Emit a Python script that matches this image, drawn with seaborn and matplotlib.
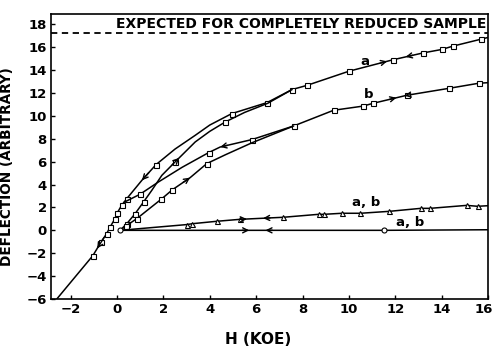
import numpy as np
import matplotlib
matplotlib.use("Agg")
import matplotlib.pyplot as plt
import matplotlib.transforms as mtransforms
import seaborn as sns
import pandas as pd

# ---------------- data ----------------
# curve a, descending branch (16 kOe -> negative field)
a_desc_H = [16.0, 15.7, 14.5, 14.0, 13.2, 11.9, 10.0, 8.2, 7.55, 6.47, 4.95,
            4.0, 3.37, 2.5, 1.68, 1.07, 0.42, 0.2, 0.0, -0.09, -0.3, -0.45,
            -0.7, -1.04, -1.8, -2.6]
a_desc_D = [16.85, 16.7, 16.1, 15.8, 15.5, 14.9, 13.9, 12.67, 12.3, 11.16, 10.2,
            9.2, 8.3, 7.1, 5.74, 4.37, 2.77, 2.19, 1.5, 1.02, 0.29, -0.29,
            -1.05, -2.2, -4.05, -6.0]
a_desc_marks = [1, 2, 3, 4, 5, 6, 7, 8, 9, 10, 14, 16, 17, 18, 19, 20, 21, 22, 23]
# curve a, ascending (virgin) branch
a_asc_H = [0.13, 0.42, 0.78, 1.14, 1.5, 1.93, 2.5, 3.37, 4.0, 4.67, 5.5, 6.5, 7.55]
a_asc_D = [0.0, 0.58, 1.46, 2.47, 3.5, 4.8, 5.97, 7.72, 8.65, 9.47, 10.3, 11.1, 12.3]
a_asc_marks = [1, 2, 3, 6, 9]
# curve b, descending branch
b_desc_H = [16.0, 15.6, 14.3, 12.5, 11.05, 10.6, 9.34, 7.62, 5.82, 4.45, 3.95,
            2.8, 1.78, 0.99, 0.3]
b_desc_D = [12.9, 12.85, 12.4, 11.8, 11.1, 10.85, 10.49, 9.12, 7.93, 7.28, 6.79,
            5.5, 4.22, 3.15, 2.45]
b_desc_marks = [1, 2, 3, 4, 5, 6, 7, 8, 10, 13]
# curve b, ascending (virgin) branch
b_asc_H = [0.13, 0.4, 0.85, 1.9, 2.39, 3.15, 3.87, 4.67, 5.82, 7.62]
b_asc_D = [0.0, 0.4, 1.02, 2.71, 3.55, 4.6, 5.83, 6.6, 7.65, 9.12]
b_asc_marks = [1, 2, 3, 4, 6]
# curve "a, b" with triangles
ab_tri_H = [0.13, 3.0, 3.25, 4.3, 5.3, 7.17, 8.7, 8.94, 9.7, 10.5, 11.75, 13.1, 13.5, 15.08, 15.55, 16.0]
ab_tri_D = [0.0, 0.5, 0.58, 0.79, 0.96, 1.14, 1.4, 1.4, 1.49, 1.49, 1.66, 1.92, 1.92, 2.18, 2.1, 2.15]
ab_tri_marks = list(range(1, 15))
# curve "a, b" flat, with circles
ab_flat_H = [0.13, 11.5, 16.0]
ab_flat_D = [0.0, 0.0, 0.05]
ab_flat_marks = [0, 1]

x_ticks = [-2, 0, 2, 4, 6, 8, 10, 12, 14, 16]
y_ticks = [-6, -4, -2, 0, 2, 4, 6, 8, 10, 12, 14, 16, 18]
expected_level = 17.2

# arrows: (series, H position, direction +1 right / -1 left)
arrows = [("a_desc", 12.45, -1), ("a_desc", 1.07, -1), ("a_desc", -0.86, -1),
          ("a_asc", 2.68, 1), ("a_desc", 11.65, 1),
          ("b_desc", 4.45, -1), ("b_desc", 12.4, -1),
          ("b_asc", 3.15, 1), ("b_desc", 12.05, 1),
          ("ab_tri", 5.6, 1), ("ab_tri", 6.3, -1),
          ("ab_flat", 5.7, 1), ("ab_flat", 6.4, -1)]

# ---------------- style ----------------
sns.set_style("ticks")
plt.rcParams["font.family"] = ["DejaVu Sans"]
plt.rcParams["font.weight"] = "bold"
for k in ["text.color", "axes.labelcolor", "xtick.color", "ytick.color", "axes.edgecolor"]:
    plt.rcParams[k] = "black"

fig = plt.figure(figsize=(4.93, 3.47), dpi=100)
ax = fig.add_axes([51/493, 1-299/347, (488-51)/493, (299-14)/347])

series = {
    "a_desc": (a_desc_H, a_desc_D, "s", a_desc_marks),
    "a_asc": (a_asc_H, a_asc_D, "s", a_asc_marks),
    "b_desc": (b_desc_H, b_desc_D, "s", b_desc_marks),
    "b_asc": (b_asc_H, b_asc_D, "s", b_asc_marks),
    "ab_tri": (ab_tri_H, ab_tri_D, "^", ab_tri_marks),
    "ab_flat": (ab_flat_H, ab_flat_D, "o", ab_flat_marks),
}

for name, (hs, ds, mk, me) in series.items():
    df = pd.DataFrame({"H": hs, "D": ds})
    sns.lineplot(data=df, x="H", y="D", ax=ax, sort=False, estimator=None,
                 color="black", lw=1.1, marker=mk, markevery=me,
                 markersize=3.6, markerfacecolor="white",
                 markeredgecolor="black", markeredgewidth=0.8)

def interp(name, h):
    hs, ds = np.array(series[name][0]), np.array(series[name][1])
    order = np.argsort(hs)
    return np.interp(h, hs[order], ds[order])

for name, h, d in arrows:
    dh = 0.3 * d
    ax.annotate("", xy=(h, interp(name, h)), xytext=(h - dh, interp(name, h - dh)),
                arrowprops=dict(arrowstyle="->", color="black", lw=1.0,
                                mutation_scale=9, shrinkA=0, shrinkB=0))

ax.axhline(expected_level, color="black", lw=1.3, ls=(0, (3.5, 2.5)))
ax.text(15.95, expected_level + 0.25, "EXPECTED FOR COMPLETELY REDUCED SAMPLE",
        ha="right", va="bottom", fontsize=10, fontweight="bold")

lab = dict(fontsize=9.5, fontweight="bold", ha="center", va="center")
ax.text(10.7, 14.75, "a", **lab)
ax.text(10.85, 11.9, "b", **lab)
ax.text(10.75, 2.45, "a, b", **lab)
ax.text(12.65, 0.7, "a, b", **lab)

ax.set_xlim(-2.85, 16.0)
ax.set_ylim(-6.0, 18.9)
ax.set_xticks(x_ticks)
ax.set_yticks(y_ticks)
ax.tick_params(direction="in", length=3, width=1, labelsize=9.5, pad=3)
for t in ax.get_xticklabels() + ax.get_yticklabels():
    t.set_fontweight("bold")
# keep the last x tick label inside the picture
last = ax.get_xticklabels()[-1]
last.set_transform(last.get_transform() +
                   mtransforms.ScaledTranslation(-4/100, 0, fig.dpi_scale_trans))
for s in ax.spines.values():
    s.set_linewidth(1.2)
    s.set_color("black")

ax.set_xlabel("H (KOE)", fontsize=11, fontweight="bold")
ax.set_ylabel("DEFLECTION (ARBITRARY)", fontsize=9.8, fontweight="bold")
ax.xaxis.set_label_coords((258-51)/437, -(332-299)/285, transform=ax.transAxes)
ax.yaxis.set_label_coords(-(51-14)/437, (299-167)/285, transform=ax.transAxes)

fig.savefig("out.png", dpi=100)
